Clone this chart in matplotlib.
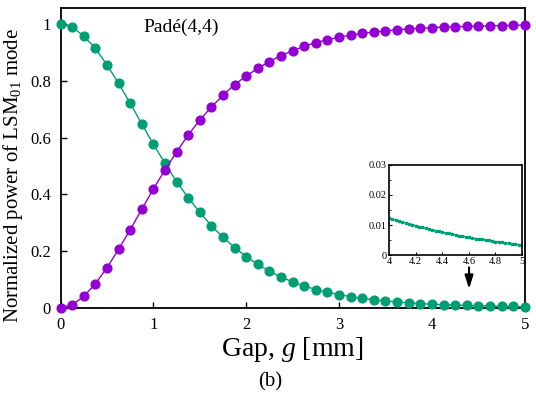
import numpy as np
import matplotlib
matplotlib.use('Agg')
import matplotlib.pyplot as plt

plt.rcParams['font.family'] = ['Liberation Serif', 'DejaVu Serif']
plt.rcParams['mathtext.fontset'] = 'custom'
plt.rcParams['mathtext.rm'] = 'Liberation Serif'
plt.rcParams['mathtext.it'] = 'Liberation Serif:italic'

# gap values [mm], 0 to 5 in steps of 0.125
gap = np.linspace(0, 5, 41)

# normalized power of LSM01 (green) and the other mode (purple)
p_green = [1.000, 0.990, 0.958, 0.915, 0.856, 0.791, 0.721, 0.648, 0.576, 0.509,
           0.444, 0.388, 0.336, 0.289, 0.248, 0.212, 0.180, 0.153, 0.128, 0.108,
           0.091, 0.076, 0.064, 0.054, 0.046, 0.039, 0.033, 0.028, 0.024, 0.020,
           0.017, 0.0145, 0.0122, 0.0107, 0.0092, 0.0079, 0.0067, 0.0057, 0.0049,
           0.0041, 0.0033]
p_purple = [0.000, 0.010, 0.040, 0.084, 0.141, 0.206, 0.275, 0.347, 0.419, 0.486,
            0.549, 0.609, 0.662, 0.708, 0.749, 0.787, 0.817, 0.844, 0.868, 0.889,
            0.906, 0.922, 0.935, 0.945, 0.954, 0.961, 0.967, 0.972, 0.976, 0.980,
            0.983, 0.9855, 0.9878, 0.9893, 0.9908, 0.9921, 0.9933, 0.9943, 0.9951,
            0.9959, 0.9967]

# inset: zoom of the green curve between 4 and 5 mm
gap_zoom = np.linspace(4, 5, 41)
p_zoom = [0.0122, 0.0119, 0.0116, 0.0113, 0.0110, 0.0107, 0.0104, 0.0101, 0.0098,
          0.0095, 0.0092, 0.0089, 0.0086, 0.0084, 0.0081, 0.0079, 0.0076, 0.0074,
          0.0072, 0.0070, 0.0067, 0.0065, 0.0063, 0.0061, 0.0059, 0.0057, 0.0055,
          0.0054, 0.0052, 0.0050, 0.0049, 0.0047, 0.0045, 0.0044, 0.0042, 0.0041,
          0.0039, 0.0038, 0.0036, 0.0035, 0.0033]

green = '#009e73'
purple = '#9400d3'

fig = plt.figure(figsize=(5.36, 3.98), dpi=100)
ax = fig.add_axes([0.113, 0.227, 0.866, 0.753])

ax.plot(gap, p_green, color=green, lw=1, marker='o', ms=6.3, clip_on=False, zorder=3)
ax.plot(gap, p_purple, color=purple, lw=1, marker='o', ms=6.3, clip_on=False, zorder=3)

ax.set_xlim(0, 5)
ax.set_ylim(0, 1.057)
ax.set_xticks([0, 1, 2, 3, 4, 5])
ax.set_yticks([0, 0.2, 0.4, 0.6, 0.8, 1])
ax.set_yticklabels(['0', '0.2', '0.4', '0.6', '0.8', '1'])
ax.tick_params(direction='in', length=4, width=1, labelsize=12, pad=7)
for s in ax.spines.values():
    s.set_linewidth(1.3)

ax.set_ylabel(r'Normalized power of LSM$_{01}$ mode', fontsize=15)
ax.yaxis.set_label_coords(-0.076, 0.44)
ax.set_xlabel(r'Gap, $g$ [mm]', fontsize=20, labelpad=1)
ax.text(1.3, 0.99, 'Padé(4,4)', fontsize=14, ha='center', va='center')
fig.text(0.505, 0.04, '(b)', fontsize=15, ha='center', va='center')

ax.annotate('', xy=(4.4, 0.056), xytext=(4.4, 0.152),
            arrowprops=dict(arrowstyle='-|>,head_length=0.8,head_width=0.25',
                            color='black', lw=1.5))

# inset
axi = fig.add_axes([0.726, 0.359, 0.248, 0.227])
axi.plot(gap_zoom, p_zoom, color=green, lw=1, marker='s', ms=2.0)
axi.set_xlim(4, 5)
axi.set_ylim(0, 0.03)
axi.set_xticks([4, 4.2, 4.4, 4.6, 4.8, 5])
axi.set_xticklabels(['4', '4.2', '4.4', '4.6', '4.8', '5'])
axi.set_yticks([0, 0.01, 0.02, 0.03])
axi.set_yticklabels(['0', '0.01', '0.02', '0.03'])
axi.set_yticks([0.005, 0.015, 0.025], minor=True)
axi.tick_params(direction='in', length=2.5, width=0.8, labelsize=7.5, pad=1.5)
axi.tick_params(which='minor', direction='in', length=1.5, width=0.6)
for s in axi.spines.values():
    s.set_linewidth(1.2)

fig.savefig('out.png', dpi=100)
